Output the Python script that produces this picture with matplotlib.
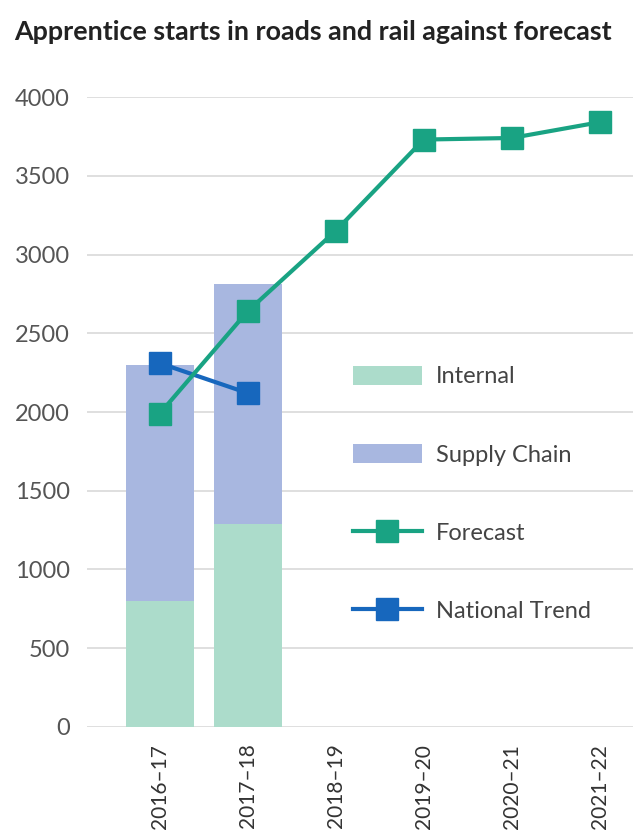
import numpy as np
import matplotlib.pyplot as plt
from matplotlib.patches import Patch
from matplotlib.lines import Line2D

# Данные
years = ['2016–17', '2017–18', '2018–19', '2019–20', '2020–21', '2021–22']
internal = [800, 1290]
supply_chain = [1500, 1520]
forecast = [1990, 2640, 3150, 3730, 3740, 3840]
national_trend = [2310, 2120]

c_internal = '#acdccb'
c_supply = '#a8b7e0'
c_forecast = '#19a383'
c_national = '#1767bd'

plt.rcParams['font.family'] = ['Lato', 'DejaVu Sans']

fig = plt.figure(figsize=(6.33, 8.38), dpi=100)
ax = fig.add_axes([0.137, 0.1325, 0.863, 0.7517])

x = np.arange(len(years))
n_bars = len(internal)

ax.bar(x[:n_bars], internal, width=0.77, color=c_internal, zorder=2)
ax.bar(x[:n_bars], supply_chain, width=0.77, bottom=internal,
       color=c_supply, zorder=2)

ax.plot(x[:len(national_trend)], national_trend, color=c_national, lw=3,
        marker='s', markersize=16, zorder=3)
ax.plot(x, forecast, color=c_forecast, lw=3, marker='s', markersize=16,
        zorder=4)

ax.set_xlim(-0.83, 5.38)
ax.set_ylim(0, 4000)
ax.set_yticks(np.arange(0, 4001, 500))
ax.grid(axis='y', color='#d9d9d9', lw=1.2, zorder=0)
ax.set_axisbelow(True)
for s in ax.spines.values():
    s.set_visible(False)

ax.set_xticks(x)
ax.set_xticklabels(years, rotation=90, fontsize=15, color='#333333')
ax.tick_params(axis='both', length=0)
ax.tick_params(axis='y', labelsize=17, labelcolor='#555555', pad=12)
ax.tick_params(axis='x', pad=12)

handles = [
    Patch(facecolor=c_internal, label='Internal'),
    Patch(facecolor=c_supply, label='Supply Chain'),
    Line2D([0], [0], color=c_forecast, lw=3, marker='s', markersize=16,
           label='Forecast'),
    Line2D([0], [0], color=c_national, lw=3, marker='s', markersize=16,
           label='National Trend'),
]
leg = ax.legend(handles=handles, loc='upper left', bbox_to_anchor=(0.449, 0.607),
                frameon=False, fontsize=17, handlelength=2.9, handleheight=0.85,
                labelspacing=2.4, handletextpad=0.6)
for t in leg.get_texts():
    t.set_color('#444444')

fig.text(0.022, 0.962, 'Apprentice starts in roads and rail against forecast',
         fontsize=19.4, fontweight='bold', color='#222222', va='center')

fig.savefig('out.png', dpi=100)
